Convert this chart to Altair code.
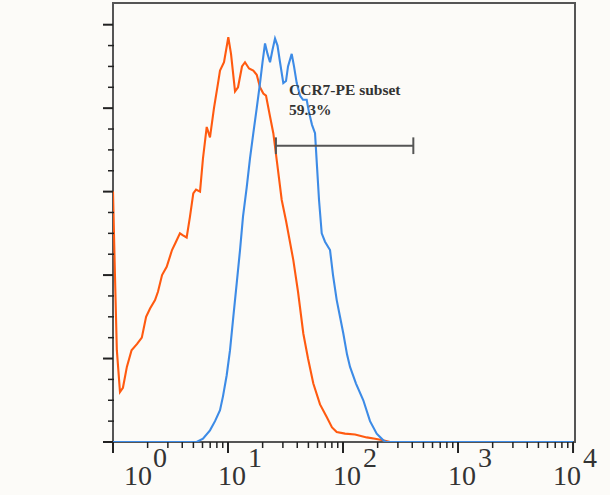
import altair as alt
import pandas as pd

# Orange histogram (control)
orange_x = [1.0, 1.04, 1.08, 1.15, 1.22, 1.32, 1.45, 1.62, 1.78, 1.94, 2.10, 2.32, 2.46, 2.67,
            2.93, 3.26, 3.53, 3.82, 4.06, 4.37, 4.67, 4.99, 5.27, 5.71, 6.06, 6.53, 6.97, 7.55,
            8.19, 8.52, 9.23, 10.06, 10.62, 11.51, 12.22, 13.23, 14.05, 15.23, 16.60, 17.77,
            18.98, 20.28, 21.40, 23.19, 24.77, 26.68, 29.31, 31.94, 36.97, 40.62, 45.16, 49.63,
            55.18, 63.1, 72.16, 80.24, 88.14, 104.1, 127.2, 160.7, 189.8, 222.7, 256.3, 10000]
orange_y = [60, 40, 22, 12, 13, 18, 22, 23.5, 25, 30, 32, 34, 36, 40,
            42, 46, 48, 50, 49.5, 49, 54, 59.6, 60.5, 60, 68, 75.5, 73, 80,
            86, 89, 91, 97, 93, 84, 85, 90, 91, 89.5, 89, 88,
            85, 83.5, 83, 78, 74, 67, 58, 53, 43.6, 36, 26, 20,
            14, 9, 6, 3.5, 2.4, 2, 1.8, 1.1, 0.8, 0.4, 0, 0]

# Blue histogram (CCR7-PE)
blue_x = [1.0, 5.34, 6.06, 6.97, 7.71, 8.52, 9.05, 9.74, 10.41, 11.12, 11.9, 12.72, 13.5,
          14.54, 15.54, 16.6, 17.77, 18.98, 19.95, 20.98, 22.06, 23.19, 24.38, 25.63, 26.94,
          28.33, 30.26, 31.94, 33.25, 35.8, 37.49, 39.58, 42.28, 44.89, 48.33, 50.61, 53.75,
          57.09, 59.42, 61.85, 65.28, 69.74, 77.09, 81.85, 88.14, 94.17, 100.6, 108.3, 115.1,
          129.7, 150.1, 171.7, 196.3, 224.1, 236.5, 10000]
blue_y = [0, 0, 0.8, 2.8, 5, 7.6, 11, 16, 22, 30, 38, 46, 54,
          61, 68, 74, 80, 86, 91, 95.5, 93, 91, 94, 96.7, 95,
          91, 86, 86.5, 90, 93, 90, 86, 83, 82, 82, 79, 76,
          74, 66, 58, 50, 48, 46, 40, 34, 30, 26, 21, 18,
          14, 10, 5, 2, 0.4, 0, 0]

# Gate
gate_x = [26.1, 408.6]
gate_y = 71
gate_cap = [69, 73]
gate_label = ["CCR7-PE subset", "59.3%"]
gate_label_x = 33.9
gate_label_y = [83.1, 78.4]

# Axis ticks
x_major = [1, 10, 100, 1000, 10000]
x_exp = ["0", "1", "2", "3", "4"]
x_minor = [m * 10 ** k for k in range(4) for m in range(2, 10)]
y_major = list(range(0, 101, 20))
y_minor = [v for v in range(0, 101, 5) if v % 20 != 0]

FONT = "Liberation Serif"
TXT = "#333333"
AX = "#222222"

W, H = 462, 439

rows = []
for i, (x, y) in enumerate(zip(orange_x, orange_y)):
    rows.append({"series": "control", "x": x, "y": y, "o": i})
for i, (x, y) in enumerate(zip(blue_x, blue_y)):
    rows.append({"series": "CCR7", "x": x, "y": y, "o": i})
df = pd.DataFrame(rows)

xscale = alt.Scale(type="log", domain=[1, 10400], nice=False)
yscale = alt.Scale(domain=[0, 105.2], nice=False, zero=False)

lines = alt.Chart(df).mark_line(strokeWidth=2.1, clip=True).encode(
    x=alt.X("x:Q", scale=xscale,
            axis=alt.Axis(values=x_major, labels=False, title=None, grid=False, orient="bottom",
                          ticks=False, domainColor=AX, domainWidth=2.5)),
    y=alt.Y("y:Q", scale=yscale,
            axis=alt.Axis(values=y_major, title="% of Max", grid=False, orient="left",
                          ticks=False,
                          labelFont=FONT, labelFontSize=27, labelColor=TXT, labelPadding=15,
                          titleFont=FONT, titleFontSize=30, titleFontWeight="normal", titleColor=TXT,
                          titlePadding=18,
                          domainColor=AX, domainWidth=2.5)),
    color=alt.Color("series:N", scale=alt.Scale(domain=["control", "CCR7"], range=["#ff5a10", "#3d8be6"]), legend=None),
    order="o:Q",
)

# Tick marks drawn as rules positioned through the scales
ymaj_df = pd.DataFrame({"v": y_major})
ymin_df = pd.DataFrame({"v": y_minor})
xmaj_df = pd.DataFrame({"v": x_major})
xmin_df = pd.DataFrame({"v": x_minor})

ytick_major = alt.Chart(ymaj_df).mark_rule(color=AX, strokeWidth=2).encode(
    y=alt.Y("v:Q", scale=yscale, axis=None), x=alt.value(-10), x2=alt.value(0))
ytick_minor = alt.Chart(ymin_df).mark_rule(color=AX, strokeWidth=1.5).encode(
    y=alt.Y("v:Q", scale=yscale, axis=None), x=alt.value(-5), x2=alt.value(1))
xtick_major = alt.Chart(xmaj_df).mark_rule(color=AX, strokeWidth=2).encode(
    x=alt.X("v:Q", scale=xscale, axis=None), y=alt.value(H), y2=alt.value(H + 11))
xtick_minor = alt.Chart(xmin_df).mark_rule(color=AX, strokeWidth=1.5).encode(
    x=alt.X("v:Q", scale=xscale, axis=None), y=alt.value(H), y2=alt.value(H + 6))

gate_df = pd.DataFrame({"x": [gate_x[0]], "x2": [gate_x[1]], "y": [gate_y]})
gate = alt.Chart(gate_df).mark_rule(color="#555", strokeWidth=2).encode(
    x=alt.X("x:Q", scale=xscale, axis=None), x2="x2:Q", y=alt.Y("y:Q", scale=yscale, axis=None))
caps_df = pd.DataFrame({"x": gate_x, "y": [gate_cap[0]] * 2, "y2": [gate_cap[1]] * 2})
caps = alt.Chart(caps_df).mark_rule(color="#555", strokeWidth=2).encode(
    x=alt.X("x:Q", scale=xscale, axis=None), y=alt.Y("y:Q", scale=yscale, axis=None), y2="y2:Q")

lab_df = pd.DataFrame({"t": gate_label, "x": [gate_label_x] * 2, "y": gate_label_y})
labels = alt.Chart(lab_df).mark_text(font=FONT, fontSize=15.5, fontWeight="bold", color="#333",
                                     align="left", baseline="alphabetic").encode(
    x=alt.X("x:Q", scale=xscale, axis=None), y=alt.Y("y:Q", scale=yscale, axis=None), text="t:N")

tick_df = pd.DataFrame({"v": x_major, "e": x_exp, "b": ["10"] * 5})

def tick_labels(filt, dx_base, dx_exp):
    base = alt.Chart(tick_df).transform_filter(filt).mark_text(
        font=FONT, fontSize=28, color=TXT, align="center", baseline="alphabetic", dx=dx_base).encode(
        x=alt.X("v:Q", scale=xscale, axis=None), y=alt.value(482), text="b:N")
    exp = alt.Chart(tick_df).transform_filter(filt).mark_text(
        font=FONT, fontSize=28, color=TXT, align="center", baseline="alphabetic", dx=dx_exp).encode(
        x=alt.X("v:Q", scale=xscale, axis=None), y=alt.value(464), text="e:N")
    return base + exp

tl_first = tick_labels("datum.v === 1", 25, 47)
tl_mid = tick_labels("datum.v > 1 && datum.v < 10000", 4, 27)
tl_last = tick_labels("datum.v === 10000", -6, 17)

chart = alt.layer(lines, ytick_major, ytick_minor, xtick_major, xtick_minor,
                  gate, caps, labels, tl_first, tl_mid, tl_last).properties(
    width=W, height=H,
    autosize=alt.AutoSizeParams(type="none"),
    padding={"left": 113, "top": 3, "right": 35, "bottom": 53},
    background="#fcfbf8",
).configure_view(stroke="#555", strokeWidth=2)

chart.save("out.html", embed_options={"renderer": "svg", "actions": False})
